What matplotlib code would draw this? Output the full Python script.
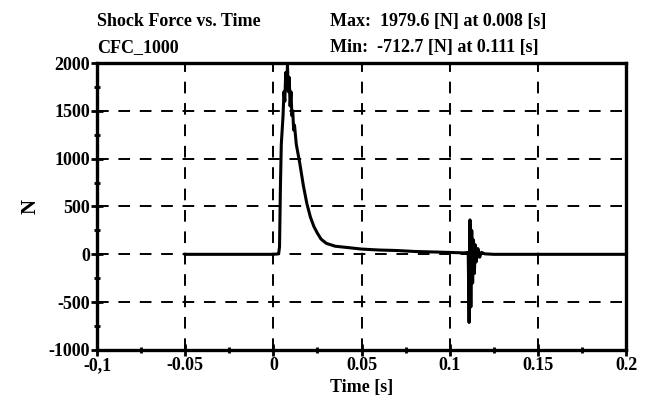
import numpy as np
import matplotlib.pyplot as plt
from matplotlib.ticker import MultipleLocator

time = [-0.05, 0.0, 0.003, 0.0035, 0.004, 0.0045, 0.005, 0.0055, 0.006, 0.0065,
        0.007, 0.0075, 0.008, 0.0085, 0.009, 0.0095, 0.010, 0.0105, 0.011, 0.0115,
        0.012, 0.013, 0.014, 0.015, 0.017, 0.019, 0.021, 0.023, 0.025, 0.027,
        0.030, 0.035, 0.040, 0.045, 0.050, 0.060, 0.070, 0.080, 0.090, 0.100,
        0.108, 0.1105, 0.111, 0.1115, 0.112, 0.1125, 0.113, 0.1135, 0.114, 0.1145,
        0.115, 0.116, 0.117, 0.118, 0.120, 0.125, 0.2]
force = [0, 0, 5, 80, 700, 1150, 1300, 1450, 1700, 1600,
         1900, 1750, 1979.6, 1700, 1850, 1550, 1700, 1450, 1500, 1300,
         1350, 1150, 1050, 950, 720, 530, 390, 290, 220, 160,
         115, 85, 75, 65, 55, 45, 40, 30, 25, 20,
         15, 20, -712.7, 360, -550, 250, -300, 150, -200, 100,
         -80, 60, -30, 20, 5, 0, 0]

xticks = [-0.1, -0.05, 0, 0.05, 0.1, 0.15, 0.2]
xtick_labels = ["-0,1", "-0.05", "0", "0.05", "0.1", "0.15", "0.2"]
yticks = [-1000, -500, 0, 500, 1000, 1500, 2000]

font = dict(family="Liberation Serif", weight="bold")

fig = plt.figure(figsize=(6.49, 4.17), dpi=100)
ax = fig.add_axes([0.1495, 0.1607, 0.8151, 0.6882])

ax.plot(time, force, color="black", lw=2.2)

ax.set_xlim(-0.1, 0.2)
ax.set_ylim(-1000, 2000)
ax.set_xticks(xticks)
ax.set_xticklabels(xtick_labels, fontsize=13, **font)
ax.set_yticks(yticks)
ax.set_yticklabels([str(v) for v in yticks], fontsize=13, **font)
ax.xaxis.set_minor_locator(MultipleLocator(0.025))
ax.yaxis.set_minor_locator(MultipleLocator(250))
ax.tick_params(which="major", direction="inout", length=8, width=2, pad=1)
ax.tick_params(which="minor", direction="inout", length=4, width=2)

ax.grid(True, which="major", color="black", linestyle=(0, (6, 5)), lw=1.4)
for s in ax.spines.values():
    s.set_linewidth(2.4)

ax.set_xlabel("Time [s]", fontsize=13, labelpad=4, **font)
ax.set_ylabel("N", fontsize=15, labelpad=6, **font)

# Kopfzeilen
fig.text(0.1495, 0.948, "Shock Force vs. Time", fontsize=13, va="center", **font)
fig.text(0.1495, 0.887, "CFC_1000", fontsize=13, va="center", **font)
fig.text(0.508, 0.948, "Max:  1979.6 [N] at 0.008 [s]", fontsize=13, va="center", **font)
fig.text(0.508, 0.887, "Min:  -712.7 [N] at 0.111 [s]", fontsize=13, va="center", **font)

fig.savefig("out.png", dpi=100)
